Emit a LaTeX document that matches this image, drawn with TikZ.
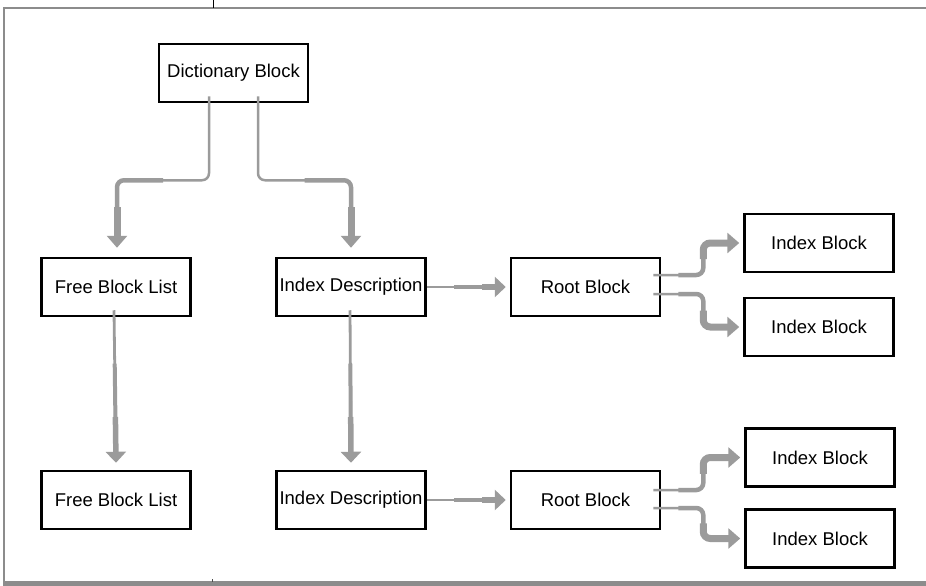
\documentclass[tikz,border=0pt]{standalone}
\usepackage{fontspec}
\setmainfont{Liberation Sans}
\usetikzlibrary{arrows.meta,calc}
\definecolor{conn}{RGB}{155,155,155}
\definecolor{framec}{RGB}{140,140,140}
\begin{document}
\begin{tikzpicture}[x=1pt,y=-1pt,
  blk/.style={draw=black, line width=2.5pt, minimum width=149pt, minimum height=58pt, inner sep=0pt, font=\fontsize{18.5}{22}\selectfont},
  cw1/.style={draw=conn, line width=2.5pt, rounded corners=7pt, shorten >=8pt},
  cw2/.style={draw=conn, line width=4.5pt, rounded corners=7pt, shorten >=8pt},
  cw3/.style={draw=conn, line width=7pt, rounded corners=7pt, -{Triangle[width=20pt,length=12pt]}},
  cs1/.style={draw=conn, line width=2.8pt, shorten >=8pt},
  cs2/.style={draw=conn, line width=4pt, shorten >=8pt},
  cs3/.style={draw=conn, line width=5.5pt, -{Triangle[width=20pt,length=11pt]}},
]
\useasboundingbox (0,0) rectangle (926,586);
% frame
\fill[framec] (3,581) rectangle (926,586);
\draw[framec, line width=2pt] (4,582) -- (4,8) -- (926,8);
\draw[black, line width=0.8pt] (213,0) -- (213,8);
\draw[black!70, line width=0.8pt] (212,579) -- (212,582);

% blocks
\node[blk] (dict) at (233.5,73) {Dictionary Block};
\node[blk] (fbl1) at (116,287) {Free Block List};
\node[blk] (id1) at (351,287) {Index Description};
\node[blk] (rb1) at (585.5,287) {Root Block};
\node[blk] (ib1) at (819,243) {Index Block};
\node[blk] (ib2) at (819,327) {Index Block};
\node[blk] (fbl2) at (116,500) {Free Block List};
\node[blk] (id2) at (351,500) {Index Description};
\node[blk] (rb2) at (585.5,500) {Root Block};
\node[blk] (ib3) at (820,457.5) {Index Block};
\node[blk] (ib4) at (820,538.5) {Index Block};

% dictionary -> free block list
\coordinate (a1) at ([xshift=-24.5pt,yshift=7pt]dict.south);
\coordinate (a1e) at ([xshift=1pt,yshift=9pt]fbl1.north);
\coordinate (hlev) at ([yshift=-77pt]dict.south);
\draw[cw1] (a1) -- (a1 |- hlev) -| (a1e);
\draw[cw2] ($(a1 |- hlev)!0.5!(a1e |- hlev)$) -| (a1e);
\draw[cw3] ($(a1e |- hlev)!0.4!(a1e)$) -- (a1e);

% dictionary -> index description
\coordinate (a2) at ([xshift=24.5pt,yshift=7pt]dict.south);
\coordinate (a2e) at ([yshift=9pt]id1.north);
\draw[cw1] (a2) -- (a2 |- hlev) -| (a2e);
\draw[cw2] ($(a2 |- hlev)!0.5!(a2e |- hlev)$) -| (a2e);
\draw[cw3] ($(a2e |- hlev)!0.4!(a2e)$) -- (a2e);

% free block list -> free block list
\coordinate (b1) at ([xshift=-2pt,yshift=7pt]fbl1.south);
\coordinate (b1e) at ([yshift=7pt]fbl2.north);
\draw[cs1] (b1) -- (b1e);
\draw[cs2] ($(b1)!0.35!(b1e)$) -- (b1e);
\draw[cs3] ($(b1)!0.7!(b1e)$) -- (b1e);

% index description -> index description
\coordinate (b2) at ([xshift=-1pt,yshift=7pt]id1.south);
\coordinate (b2e) at ([yshift=7pt]id2.north);
\draw[cs1] (b2) -- (b2e);
\draw[cs2] ($(b2)!0.35!(b2e)$) -- (b2e);
\draw[cs3] ($(b2)!0.7!(b2e)$) -- (b2e);

% index description -> root block
\coordinate (e1e) at ([xshift=-4pt]rb1.west);
\draw[cs1] (id1.east) -- (e1e);
\draw[cs2] ($(id1.east)!0.35!(e1e)$) -- (e1e);
\draw[cs3] ($(id1.east)!0.7!(e1e)$) -- (e1e);
\coordinate (e2e) at ([xshift=-4pt]rb2.west);
\draw[cs1] (id2.east) -- (e2e);
\draw[cs2] ($(id2.east)!0.35!(e2e)$) -- (e2e);
\draw[cs3] ($(id2.east)!0.7!(e2e)$) -- (e2e);

% root block 1 -> index blocks
\coordinate (cv) at ([xshift=42pt]rb1.east);
\coordinate (c1) at ([xshift=-8pt,yshift=12pt]rb1.east);
\coordinate (c1e) at ([xshift=-4pt]ib1.west);
\draw[cw1] (c1) -- (c1 -| cv) |- (c1e);
\draw[cw2] ($(c1)!0.5!(c1 -| cv)$) -- (c1 -| cv) |- (c1e);
\draw[cw3] ($(c1 -| cv)!0.5!(cv |- c1e)$) |- (c1e);
\coordinate (c2) at ([xshift=-8pt,yshift=-7pt]rb1.east);
\coordinate (c2e) at ([xshift=-4pt]ib2.west);
\draw[cw1] (c2) -- (c2 -| cv) |- (c2e);
\draw[cw2] ($(c2)!0.5!(c2 -| cv)$) -- (c2 -| cv) |- (c2e);
\draw[cw3] ($(c2 -| cv)!0.5!(cv |- c2e)$) |- (c2e);

% root block 2 -> index blocks
\coordinate (dv) at ([xshift=42pt]rb2.east);
\coordinate (d1) at ([xshift=-8pt,yshift=10pt]rb2.east);
\coordinate (d1e) at ([xshift=-4pt]ib3.west);
\draw[cw1] (d1) -- (d1 -| dv) |- (d1e);
\draw[cw2] ($(d1)!0.5!(d1 -| dv)$) -- (d1 -| dv) |- (d1e);
\draw[cw3] ($(d1 -| dv)!0.5!(dv |- d1e)$) |- (d1e);
\coordinate (d2) at ([xshift=-8pt,yshift=-8pt]rb2.east);
\coordinate (d2e) at ([xshift=-4pt]ib4.west);
\draw[cw1] (d2) -- (d2 -| dv) |- (d2e);
\draw[cw2] ($(d2)!0.5!(d2 -| dv)$) -- (d2 -| dv) |- (d2e);
\draw[cw3] ($(d2 -| dv)!0.5!(dv |- d2e)$) |- (d2e);
\end{tikzpicture}
\end{document}
